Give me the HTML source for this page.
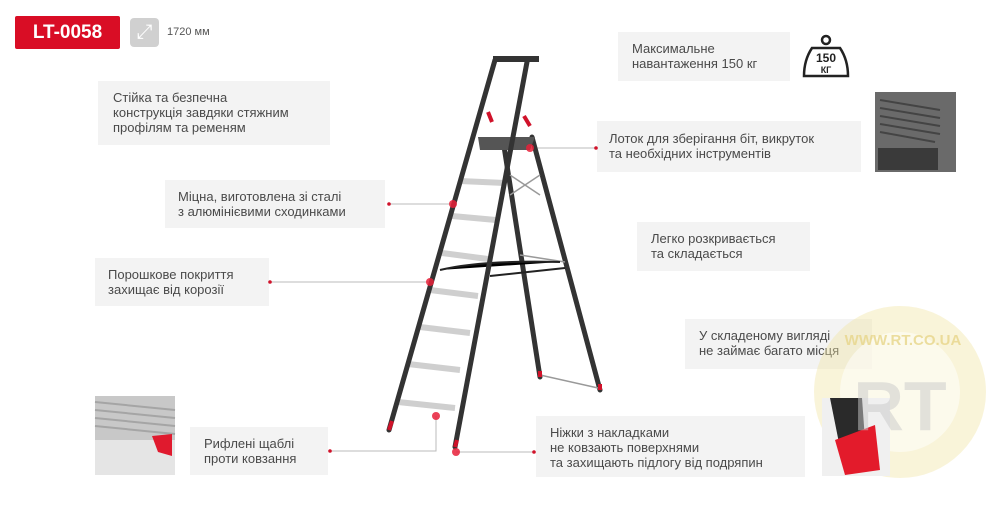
<!DOCTYPE html>
<html><head><meta charset="utf-8"><style>
body{margin:0;width:991px;height:508px;background:#fff;position:relative;overflow:hidden;font-family:"Liberation Sans",sans-serif;}
.b{position:absolute;background:#f3f3f3;color:#4a4a4a;font-size:13px;line-height:15px;box-sizing:border-box;}
</style></head><body>
<div style="position:absolute;left:15px;top:16px;width:105px;height:33px;background:#d90d25;border-radius:2px;color:#fff;font-weight:bold;font-size:19px;line-height:33px;text-align:center">LT-0058</div>
<div style="position:absolute;left:130px;top:18px;width:29px;height:29px;background:#d0d0d0;border-radius:4px;color:#fff;font-size:20px;line-height:29px;text-align:center">⤢</div>
<div style="position:absolute;left:167px;top:26px;font-size:11px;color:#555">1720 мм</div>

<div class="b" style="left:98px;top:81px;width:232px;height:64px;padding:9px 0 0 15px">Стійка та безпечна<br>конструкція завдяки стяжним<br>профілям та ременям</div>
<div class="b" style="left:165px;top:180px;width:220px;height:48px;padding:9px 0 0 13px">Міцна, виготовлена зі сталі<br>з алюмінієвими сходинками</div>
<div class="b" style="left:95px;top:258px;width:174px;height:48px;padding:9px 0 0 13px">Порошкове покриття<br>захищає від корозії</div>
<div class="b" style="left:190px;top:427px;width:138px;height:48px;padding:9px 0 0 14px">Рифлені щаблі<br>проти ковзання</div>
<div class="b" style="left:618px;top:32px;width:172px;height:49px;padding:9px 0 0 14px">Максимальне<br>навантаження 150 кг</div>
<div class="b" style="left:597px;top:121px;width:264px;height:51px;padding:10px 0 0 12px">Лоток для зберігання біт, викруток<br>та необхідних інструментів</div>
<div class="b" style="left:637px;top:222px;width:173px;height:49px;padding:9px 0 0 14px">Легко розкривається<br>та складається</div>
<div class="b" style="left:685px;top:319px;width:187px;height:50px;padding:9px 0 0 14px">У складеному вигляді<br>не займає багато місця</div>
<div class="b" style="left:536px;top:416px;width:269px;height:61px;padding:9px 0 0 14px">Ніжки з накладками<br>не ковзають поверхнями<br>та захищають підлогу від подряпин</div>

<svg width="991" height="508" style="position:absolute;left:0;top:0">
<g stroke="#222" stroke-width="2.5" fill="none"><circle cx="826" cy="40" r="4"/><path d="M812 48 H840 Q848 60 848 76 H804 Q804 60 812 48Z"/></g>
<text x="826" y="62" font-size="12" font-weight="bold" text-anchor="middle" fill="#222" font-family="Liberation Sans">150</text>
<text x="826" y="73" font-size="9" font-weight="bold" text-anchor="middle" fill="#222" font-family="Liberation Sans">КГ</text>
<rect x="875" y="92" width="81" height="80" fill="#6a6a6a"/>
<g stroke="#444" stroke-width="2"><line x1="880" y1="100" x2="940" y2="110"/><line x1="880" y1="108" x2="940" y2="118"/><line x1="880" y1="116" x2="940" y2="126"/><line x1="880" y1="124" x2="940" y2="134"/><line x1="880" y1="132" x2="935" y2="142"/></g>
<rect x="878" y="148" width="60" height="22" fill="#3a3a3a"/>
<rect x="95" y="396" width="80" height="79" fill="#c8c8c8"/>
<g stroke="#a5a5a5" stroke-width="2"><line x1="95" y1="402" x2="175" y2="410"/><line x1="95" y1="410" x2="175" y2="418"/><line x1="95" y1="418" x2="175" y2="426"/><line x1="95" y1="426" x2="175" y2="434"/></g>
<rect x="95" y="440" width="80" height="35" fill="#e5e5e5"/>
<path d="M152 436 L172 434 L172 456 L158 452Z" fill="#e01a2e"/>
<!-- watermark -->
<circle cx="900" cy="392" r="86" fill="#efe3a0" opacity="0.4"/>
<circle cx="900" cy="392" r="60" fill="#fff" opacity="0.5"/>
<rect x="822" y="398" width="68" height="78" fill="#f0f0f0"/>
<path d="M830 398 L862 398 L865 440 L840 448Z" fill="#2a2a2a"/>
<path d="M835 440 L875 425 L880 470 L845 475Z" fill="#e31b2b"/>
<text x="900" y="430" font-size="70" font-weight="bold" text-anchor="middle" fill="#c9c9c9" opacity="0.5" font-family="Liberation Sans">RT</text>
<text x="903" y="345" font-size="15" font-weight="bold" text-anchor="middle" fill="#e8d68a" opacity="0.8" font-family="Liberation Sans">WWW.RT.CO.UA</text>
<g stroke="#bbb" stroke-width="1" fill="none">
<line x1="389" y1="204" x2="452" y2="204"/><line x1="270" y1="282" x2="430" y2="282"/>
<polyline points="330,451 436,451 436,416"/><line x1="456" y1="452" x2="534" y2="452"/>
<line x1="530" y1="148" x2="596" y2="148"/>
</g>
<g fill="#d0122a"><circle cx="389" cy="204" r="1.8"/><circle cx="270" cy="282" r="1.8"/><circle cx="330" cy="451" r="1.8"/><circle cx="534" cy="452" r="1.8"/><circle cx="596" cy="148" r="1.8"/></g>
<g stroke="#333" stroke-width="5" stroke-linecap="round">
<line x1="503" y1="140" x2="540" y2="377"/><line x1="532" y1="137" x2="600" y2="390"/>
</g>
<g stroke="#999" stroke-width="1.5"><line x1="510" y1="175" x2="540" y2="195"/><line x1="540" y1="175" x2="510" y2="195"/><line x1="540" y1="375" x2="598" y2="388"/><line x1="520" y1="255" x2="565" y2="262"/></g>
<g stroke="#222" stroke-width="2"><path d="M440 270 Q480 260 560 262"/><line x1="490" y1="276" x2="565" y2="268"/></g>
<path d="M478 137 L535 137 L530 150 L480 150Z" fill="#555"/>
<g stroke="#cfcfcf" stroke-width="6">
<line x1="460" y1="181" x2="505" y2="183"/><line x1="452" y1="216" x2="496" y2="220"/><line x1="442" y1="253" x2="488" y2="259"/><line x1="430" y1="290" x2="478" y2="296"/><line x1="420" y1="327" x2="470" y2="333"/><line x1="408" y1="364" x2="460" y2="370"/><line x1="398" y1="402" x2="455" y2="408"/>
</g>
<g stroke="#333" stroke-width="5" stroke-linecap="round">
<line x1="495" y1="60" x2="389" y2="430"/><line x1="527" y1="62" x2="455" y2="447"/>
</g>
<rect x="493" y="56" width="46" height="6" fill="#333"/>
<g stroke="#d0122a" stroke-width="4"><line x1="488" y1="112" x2="492" y2="122"/><line x1="524" y1="116" x2="530" y2="126"/><line x1="389" y1="430" x2="392" y2="421"/><line x1="455" y1="447" x2="457" y2="440"/><line x1="540" y1="377" x2="540" y2="371"/><line x1="600" y1="390" x2="600" y2="384"/></g>
<g fill="#e8213a" opacity="0.85"><circle cx="530" cy="148" r="4"/><circle cx="453" cy="204" r="4"/><circle cx="430" cy="282" r="4"/><circle cx="436" cy="416" r="4"/><circle cx="456" cy="452" r="4"/></g>
</svg>
</body></html>
